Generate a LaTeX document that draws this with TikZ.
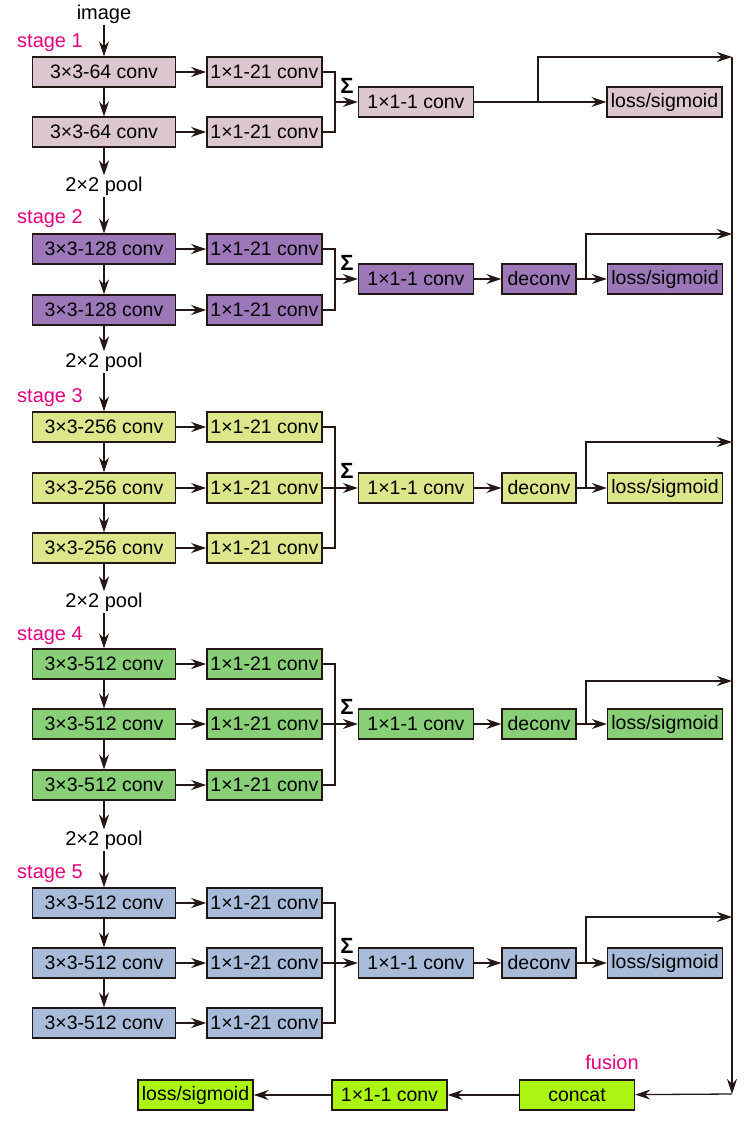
\documentclass[tikz,border=0pt]{standalone}
\usepackage{fontspec}
\setmainfont{Liberation Sans}
\usepackage{xcolor}
\usepackage{tikz}
\usetikzlibrary{positioning, arrows.meta}

\definecolor{stA}{HTML}{DCC6D0}
\definecolor{stB}{HTML}{9C78B9}
\definecolor{stC}{HTML}{DCE68A}
\definecolor{stD}{HTML}{88CF78}
\definecolor{stE}{HTML}{A8BCDA}
\definecolor{fus}{HTML}{ACF512}
\definecolor{lbl}{HTML}{E4007F}
\definecolor{ln}{HTML}{231815}

\begin{document}
\begin{tikzpicture}[x=1pt, y=-1pt,
    box/.style={draw=ln, line width=1.4pt, minimum height=30pt, inner sep=0pt,
                font=\fontsize{19.5}{21}\selectfont},
    wide/.style={box, minimum width=143pt},
    mid/.style={box, minimum width=115pt},
    dcv/.style={box, minimum width=74pt},
    arr/.style={-{Stealth[length=15pt, width=10pt, inset=5pt]}, line width=1.3pt, draw=ln},
    lin/.style={line width=1.3pt, draw=ln},
    txt/.style={font=\fontsize{20}{22}\selectfont, inner sep=1pt},
    stg/.style={txt, text=lbl},
    sig/.style={font=\fontsize{22}{24}\selectfont\bfseries, inner sep=0pt}
  ]
    \useasboundingbox (0,0) rectangle (752,1124);
    % Stage 1
    \node[txt] (img) at (104,14) {image};
    \node[stg] (lb1) at (50,43) {stage 1};
    \node[wide, fill=stA] (s1a) at (104,72) {3×3-64 conv};
    \node[wide, fill=stA] (s1b) at (104,132) {3×3-64 conv};
    \node[mid, fill=stA, right=30pt of s1a] (r1a) {1×1-21 conv};
    \node[mid, fill=stA, right=30pt of s1b] (r1b) {1×1-21 conv};
    \node[mid, fill=stA] (f1) at (416,102) {1×1-1 conv};
    \node[mid, fill=stA] (l1) at (664.5,102) {loss/sigmoid};
    \node[sig] at (347,86) {Σ};
    \node[txt] (p1) at (104,186) {2×2 pool};
    \coordinate (m1) at (335,102);
    \coordinate (b1) at (538,102);
    \coordinate (e1) at (732,57);
    % Stage 2
    \node[stg] (lb2) at (50,219) {stage 2};
    \node[wide, fill=stB] (s2a) at (104,249) {3×3-128 conv};
    \node[wide, fill=stB] (s2b) at (104,310) {3×3-128 conv};
    \node[mid, fill=stB, right=30pt of s2a] (r2a) {1×1-21 conv};
    \node[mid, fill=stB, right=30pt of s2b] (r2b) {1×1-21 conv};
    \node[mid, fill=stB] (f2) at (416,279) {1×1-1 conv};
    \node[dcv, fill=stB] (d2) at (539,279) {deconv};
    \node[mid, fill=stB] (l2) at (665,279) {loss/sigmoid};
    \node[sig] at (347,263) {Σ};
    \node[txt] (p2) at (104,362) {2×2 pool};
    \coordinate (m2) at (335,279);
    \coordinate (b2) at (586,279);
    \coordinate (e2) at (732,234);
    % Stage 3
    \node[stg] (lb3) at (50,398) {stage 3};
    \node[wide, fill=stC] (s3a) at (104,427) {3×3-256 conv};
    \node[wide, fill=stC] (s3b) at (104,488) {3×3-256 conv};
    \node[wide, fill=stC] (s3c) at (104,548) {3×3-256 conv};
    \node[mid, fill=stC, right=30pt of s3a] (r3a) {1×1-21 conv};
    \node[mid, fill=stC, right=30pt of s3b] (r3b) {1×1-21 conv};
    \node[mid, fill=stC, right=30pt of s3c] (r3c) {1×1-21 conv};
    \node[mid, fill=stC] (f3) at (416,488) {1×1-1 conv};
    \node[dcv, fill=stC] (d3) at (539,488) {deconv};
    \node[mid, fill=stC] (l3) at (665,488) {loss/sigmoid};
    \node[sig] at (347,471) {Σ};
    \node[txt] (p3) at (104,602) {2×2 pool};
    \coordinate (m3) at (335,488);
    \coordinate (b3) at (586,488);
    \coordinate (e3) at (732,442);
    % Stage 4
    \node[stg] (lb4) at (50,636) {stage 4};
    \node[wide, fill=stD] (s4a) at (104,664) {3×3-512 conv};
    \node[wide, fill=stD] (s4b) at (104,724) {3×3-512 conv};
    \node[wide, fill=stD] (s4c) at (104,785) {3×3-512 conv};
    \node[mid, fill=stD, right=30pt of s4a] (r4a) {1×1-21 conv};
    \node[mid, fill=stD, right=30pt of s4b] (r4b) {1×1-21 conv};
    \node[mid, fill=stD, right=30pt of s4c] (r4c) {1×1-21 conv};
    \node[mid, fill=stD] (f4) at (416,724) {1×1-1 conv};
    \node[dcv, fill=stD] (d4) at (539,724) {deconv};
    \node[mid, fill=stD] (l4) at (665,724) {loss/sigmoid};
    \node[sig] at (347,707) {Σ};
    \node[txt] (p4) at (104,840) {2×2 pool};
    \coordinate (m4) at (335,724);
    \coordinate (b4) at (586,724);
    \coordinate (e4) at (732,681);
    % Stage 5
    \node[stg] (lb5) at (50,874) {stage 5};
    \node[wide, fill=stE] (s5a) at (104,903) {3×3-512 conv};
    \node[wide, fill=stE] (s5b) at (104,963) {3×3-512 conv};
    \node[wide, fill=stE] (s5c) at (104,1023) {3×3-512 conv};
    \node[mid, fill=stE, right=30pt of s5a] (r5a) {1×1-21 conv};
    \node[mid, fill=stE, right=30pt of s5b] (r5b) {1×1-21 conv};
    \node[mid, fill=stE, right=30pt of s5c] (r5c) {1×1-21 conv};
    \node[mid, fill=stE] (f5) at (416,963) {1×1-1 conv};
    \node[dcv, fill=stE] (d5) at (539,963) {deconv};
    \node[mid, fill=stE] (l5) at (665,963) {loss/sigmoid};
    \node[sig] at (347,946) {Σ};
    \coordinate (m5) at (335,963);
    \coordinate (b5) at (586,963);
    \coordinate (e5) at (732,917);
    % Fusion
    \node[mid, fill=fus] (cat) at (577,1095) {concat};
    \node[stg] (lbf) at (612,1062) {fusion};
    \node[mid, fill=fus] (ff) at (389.5,1095) {1×1-1 conv};
    \node[mid, fill=fus] (fl) at (195.5,1095) {loss/sigmoid};
    \coordinate (bot) at (732,1094);
    % Arrows
    \draw[arr] (img) -- (s1a);
    \draw[arr] (s1a) -- (s1b);
    \draw[arr] (s1a) -- (r1a);
    \draw[arr] (s1b) -- (r1b);
    \draw[arr] (s1b) -- (p1);
    \draw[lin] (r1a.east) -| (m1) |- (r1b.east);
    \draw[arr] (m1) -- (f1);
    \draw[arr] (f1) -- (l1);
    \draw[arr] (b1) |- (e1);
    \draw[arr] (p1) -- (s2a);
    \draw[arr] (s2a) -- (s2b);
    \draw[arr] (s2a) -- (r2a);
    \draw[arr] (s2b) -- (r2b);
    \draw[arr] (s2b) -- (p2);
    \draw[lin] (r2a.east) -| (m2) |- (r2b.east);
    \draw[arr] (m2) -- (f2);
    \draw[arr] (f2) -- (d2);
    \draw[arr] (d2) -- (l2);
    \draw[arr] (b2) |- (e2);
    \draw[arr] (p2) -- (s3a);
    \draw[arr] (s3a) -- (s3b);
    \draw[arr] (s3b) -- (s3c);
    \draw[arr] (s3a) -- (r3a);
    \draw[arr] (s3b) -- (r3b);
    \draw[arr] (s3c) -- (r3c);
    \draw[arr] (s3c) -- (p3);
    \draw[lin] (r3a.east) -| (m3) |- (r3c.east);
    \draw[arr] (r3b) -- (f3);
    \draw[arr] (f3) -- (d3);
    \draw[arr] (d3) -- (l3);
    \draw[arr] (b3) |- (e3);
    \draw[arr] (p3) -- (s4a);
    \draw[arr] (s4a) -- (s4b);
    \draw[arr] (s4b) -- (s4c);
    \draw[arr] (s4a) -- (r4a);
    \draw[arr] (s4b) -- (r4b);
    \draw[arr] (s4c) -- (r4c);
    \draw[arr] (s4c) -- (p4);
    \draw[lin] (r4a.east) -| (m4) |- (r4c.east);
    \draw[arr] (r4b) -- (f4);
    \draw[arr] (f4) -- (d4);
    \draw[arr] (d4) -- (l4);
    \draw[arr] (b4) |- (e4);
    \draw[arr] (p4) -- (s5a);
    \draw[arr] (s5a) -- (s5b);
    \draw[arr] (s5b) -- (s5c);
    \draw[arr] (s5a) -- (r5a);
    \draw[arr] (s5b) -- (r5b);
    \draw[arr] (s5c) -- (r5c);
    \draw[lin] (r5a.east) -| (m5) |- (r5c.east);
    \draw[arr] (r5b) -- (f5);
    \draw[arr] (f5) -- (d5);
    \draw[arr] (d5) -- (l5);
    \draw[arr] (b5) |- (e5);
    \draw[arr] (e1) -- (bot);
    \draw[arr] (bot) -- (cat);
    \draw[arr] (cat) -- (ff);
    \draw[arr] (ff) -- (fl);
  \end{tikzpicture}
\end{document}
